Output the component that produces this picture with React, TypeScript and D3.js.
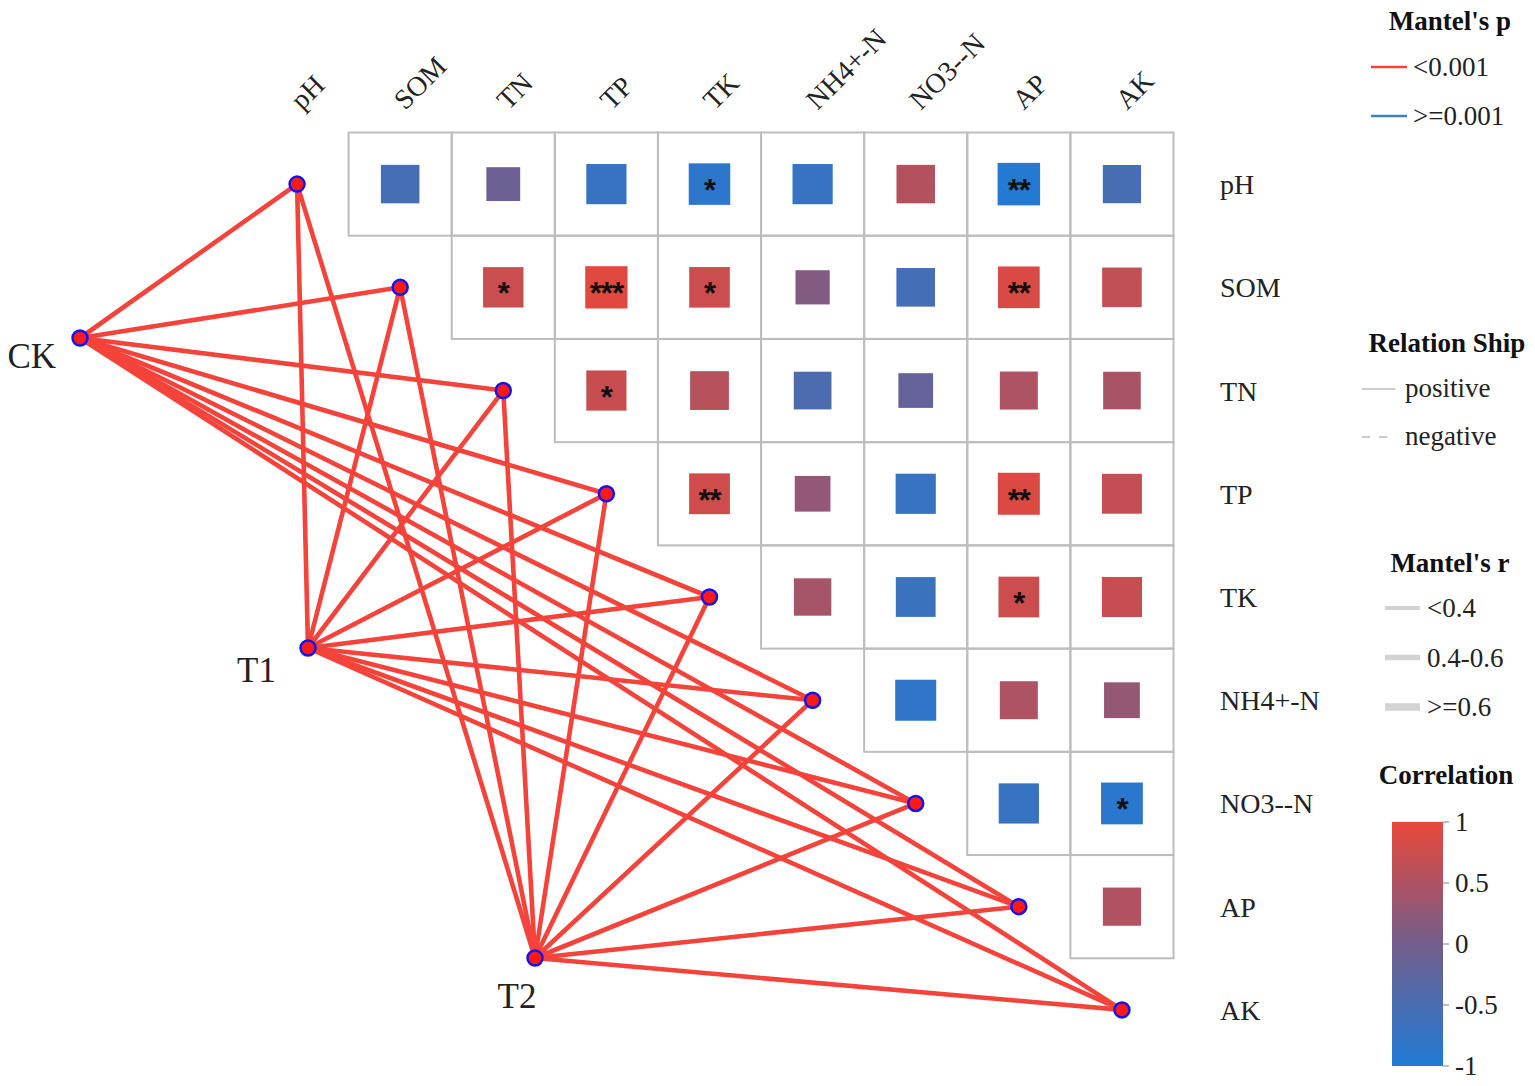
import React from "react";
import * as d3 from "d3";

// ---------- data ----------
const vars = ["pH", "SOM", "TN", "TP", "TK", "NH4+-N", "NO3--N", "AP", "AK"];

// upper-triangle correlation values (row i, columns i+1..8)
const corr_pH = [-0.55, -0.08, -0.72, -0.85, -0.72, 0.55, -0.95, -0.52];
const corr_SOM = [0.74, 0.93, 0.76, 0.12, -0.56, 0.87, 0.66];
const corr_TN = [0.72, 0.58, -0.47, -0.17, 0.5, 0.46];
const corr_TP = [0.78, 0.27, -0.72, 0.9, 0.69];
const corr_TK = [0.44, -0.68, 0.77, 0.71];
const corr_NH4 = [-0.8, 0.5, 0.28];
const corr_NO3 = [-0.72, -0.88];
const corr_AP = [0.52];

const sig_pH = ["", "", "", "*", "", "", "**", ""];
const sig_SOM = ["*", "***", "*", "", "", "**", ""];
const sig_TN = ["*", "", "", "", "", ""];
const sig_TP = ["**", "", "", "**", ""];
const sig_TK = ["", "", "*", ""];
const sig_NH4 = ["", "", ""];
const sig_NO3 = ["", "*"];
const sig_AP = [""];

const corrRows = [corr_pH, corr_SOM, corr_TN, corr_TP, corr_TK, corr_NH4, corr_NO3, corr_AP];
const sigRows = [sig_pH, sig_SOM, sig_TN, sig_TP, sig_TK, sig_NH4, sig_NO3, sig_AP];

const envs = ["CK", "T1", "T2"];
// Mantel test classes for each env -> each variable (pH..AK)
const mantelP_CK = ["<0.001", "<0.001", "<0.001", "<0.001", "<0.001", "<0.001", "<0.001", "<0.001", "<0.001"];
const mantelP_T1 = ["<0.001", "<0.001", "<0.001", "<0.001", "<0.001", "<0.001", "<0.001", "<0.001", "<0.001"];
const mantelP_T2 = ["<0.001", "<0.001", "<0.001", "<0.001", "<0.001", "<0.001", "<0.001", "<0.001", "<0.001"];
const mantelR_CK = ["<0.4", "<0.4", "<0.4", "<0.4", "<0.4", "<0.4", "<0.4", "<0.4", "<0.4"];
const mantelR_T1 = ["<0.4", "<0.4", "<0.4", "<0.4", "<0.4", "<0.4", "<0.4", "<0.4", "<0.4"];
const mantelR_T2 = ["<0.4", "<0.4", "<0.4", "<0.4", "<0.4", "<0.4", "<0.4", "<0.4", "<0.4"];
const mantelP = [mantelP_CK, mantelP_T1, mantelP_T2];
const mantelR = [mantelR_CK, mantelR_T1, mantelR_T2];

const pClasses = ["<0.001", ">=0.001"];
const rClasses = ["<0.4", "0.4-0.6", ">=0.6"];
const relClasses = ["positive", "negative"];
const colorTicks = [1, 0.5, 0, -0.5, -1];

// ---------- layout ----------
const W = 1535;
const H = 1086;
const SERIF = "'Liberation Serif', 'Times New Roman', serif";

const x = d3.scaleBand<string>().domain(vars).range([245.5, 1173.5]);
const y = d3.scaleBand<string>().domain(vars).range([132.5, 1061.5]);
const cw = x.bandwidth();

const colorScale = d3
  .scaleLinear<string>()
  .domain([-1, 0, 1])
  .range(["#1f7bd6", "#735e8c", "#e8473a"])
  .interpolate(d3.interpolateRgb);
const sizeScale = d3.scaleLinear().domain([0, 1]).range([33, 43]);

const pColor = d3.scaleOrdinal<string, string>().domain(pClasses).range(["#f4433a", "#3b82c4"]);
const rWidth = d3.scaleOrdinal<string, number>().domain(rClasses).range([4.6, 6, 8]);

// env node positions (layout)
const envPos: [number, number][] = [
  [80, 338],
  [308, 648],
  [535, 958],
];
const envLabelPos: { x: number; y: number; anchor: string }[] = [
  { x: 56, y: 368, anchor: "end" },
  { x: 276, y: 682, anchor: "end" },
  { x: 517, y: 1008, anchor: "middle" },
];

const cbScale = d3.scaleLinear().domain([-1, 1]).range([1066, 822]);

export default function App() {
  const cells: { r: number; c: number; v: number; s: string }[] = [];
  corrRows.forEach((row, i) => {
    row.forEach((v, k) => {
      cells.push({ r: i, c: i + 1 + k, v, s: sigRows[i][k] });
    });
  });

  const links: { e: number; t: number; p: string; rc: string }[] = [];
  envs.forEach((_, e) => {
    vars.forEach((_, t) => {
      links.push({ e, t, p: mantelP[e][t], rc: mantelR[e][t] });
    });
  });

  const nodeX = (i: number) => (x(vars[i]) as number) + cw / 2;
  const nodeY = (i: number) => (y(vars[i]) as number) + y.bandwidth() / 2;

  const cbStops = d3.range(0, 1.0001, 0.1).map((t) => ({ t, c: colorScale(1 - 2 * t) }));

  return (
    <svg
      width={W}
      height={H}
      style={{ position: "absolute", left: 0, top: 0, background: "#fff" }}
      fontFamily={SERIF}
    >
      <defs>
        <linearGradient id="cbGrad" x1="0" y1="0" x2="0" y2="1">
          {cbStops.map((s, i) => (
            <stop key={i} offset={s.t} stopColor={s.c} />
          ))}
        </linearGradient>
      </defs>
      <rect width={W} height={H} fill="#fff" />

      {/* grid cells */}
      {cells.map((d, i) => (
        <rect
          key={"g" + i}
          x={x(vars[d.c])}
          y={y(vars[d.r])}
          width={cw}
          height={y.bandwidth()}
          fill="none"
          stroke="#bdbdbd"
          strokeWidth={2}
        />
      ))}
      {cells.map((d, i) => {
        const s = sizeScale(Math.abs(d.v));
        const cx = nodeX(d.c);
        const cy = nodeY(d.r);
        return (
          <g key={"c" + i}>
            <rect x={cx - s / 2} y={cy - s / 2} width={s} height={s} fill={colorScale(d.v)} />
            {d.s && (
              <text
                x={cx}
                y={cy + 17}
                textAnchor="middle"
                fontFamily="'Liberation Sans', Arial, sans-serif"
                fontWeight="bold"
                fontSize={31}
                letterSpacing={-1}
                fill="#111"
              >
                {d.s}
              </text>
            )}
          </g>
        );
      })}

      {/* column labels */}
      {vars.map((v, i) => (
        <text
          key={"cl" + i}
          transform={`translate(${nodeX(i) + 5},${111}) rotate(-45)`}
          fontSize={28}
          fill="#222"
        >
          {v}
        </text>
      ))}
      {/* row labels */}
      {vars.map((v, i) => (
        <text key={"rl" + i} x={1220} y={nodeY(i) + 10} fontSize={28} fill="#222">
          {v}
        </text>
      ))}

      {/* links */}
      {links.map((l, i) => (
        <line
          key={"l" + i}
          x1={envPos[l.e][0]}
          y1={envPos[l.e][1]}
          x2={nodeX(l.t)}
          y2={nodeY(l.t)}
          stroke={pColor(l.p)}
          strokeWidth={rWidth(l.rc)}
        />
      ))}

      {/* variable nodes */}
      {vars.map((v, i) => (
        <circle key={"n" + i} cx={nodeX(i)} cy={nodeY(i)} r={7.5} fill="#ff1a1a" stroke="#1414f0" strokeWidth={2.5} />
      ))}
      {/* env nodes */}
      {envs.map((e, i) => (
        <g key={"e" + i}>
          <circle cx={envPos[i][0]} cy={envPos[i][1]} r={7.5} fill="#ff1a1a" stroke="#1414f0" strokeWidth={2.5} />
          <text x={envLabelPos[i].x} y={envLabelPos[i].y} textAnchor={envLabelPos[i].anchor as any} fontSize={35} fill="#222">
            {e}
          </text>
        </g>
      ))}

      {/* legends */}
      <g fontSize={27} fill="#222">
        <text x={1450} y={30} textAnchor="middle" fontWeight="bold" fill="#111">
          Mantel's p
        </text>
        {pClasses.map((p, i) => (
          <g key={"pl" + i}>
            <line x1={1371} x2={1407} y1={67 + i * 49} y2={67 + i * 49} stroke={pColor(p)} strokeWidth={2.5} />
            <text x={1413} y={76 + i * 49}>
              {p}
            </text>
          </g>
        ))}

        <text x={1447} y={352} textAnchor="middle" fontWeight="bold" fill="#111">
          Relation Ship
        </text>
        {relClasses.map((rc, i) => (
          <g key={"rel" + i}>
            <line
              x1={1362}
              x2={1395}
              y1={389 + i * 48}
              y2={389 + i * 48}
              stroke="#cccccc"
              strokeWidth={2}
              strokeDasharray={rc === "negative" ? "8,9" : undefined}
            />
            <text x={1405} y={397 + i * 48}>
              {rc}
            </text>
          </g>
        ))}

        <text x={1450} y={572} textAnchor="middle" fontWeight="bold" fill="#111">
          Mantel's r
        </text>
        {rClasses.map((rc, i) => (
          <g key={"rr" + i}>
            <line x1={1385} x2={1420} y1={608 + i * 49.5} y2={608 + i * 49.5} stroke="#d3d3d3" strokeWidth={rWidth(rc) - 0.6} />
            <text x={1427} y={617 + i * 49.5}>
              {rc}
            </text>
          </g>
        ))}

        <text x={1446} y={784} textAnchor="middle" fontWeight="bold" fill="#111">
          Correlation
        </text>
        <rect x={1392} y={822} width={51} height={244} fill="url(#cbGrad)" />
        {colorTicks.map((t, i) => (
          <g key={"ct" + i}>
            <line x1={1443} x2={1449} y1={cbScale(t)} y2={cbScale(t)} stroke="#aaa" strokeWidth={1.5} />
            <text x={1455} y={cbScale(t) + 9}>
              {t}
            </text>
          </g>
        ))}
      </g>
    </svg>
  );
}
